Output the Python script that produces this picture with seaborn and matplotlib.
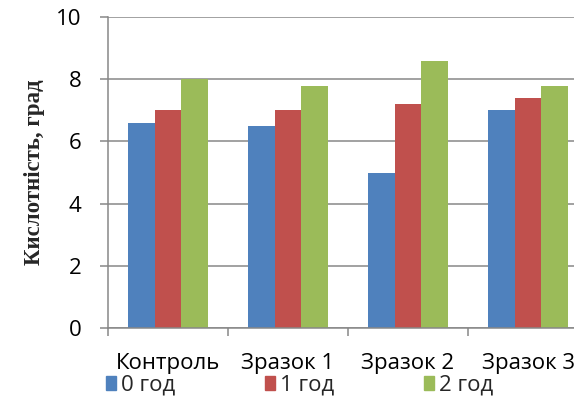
import matplotlib
matplotlib.use("Agg")
import matplotlib.pyplot as plt
import matplotlib.patches as mpatches
from matplotlib.ticker import FixedLocator
import seaborn as sns
import pandas as pd

categories = ["Контроль", "Зразок 1", "Зразок 2", "Зразок 3"]
series_names = ["0 год", "1 год", "2 год"]
values_0 = [6.6, 6.5, 5.0, 7.0]
values_1 = [7.0, 7.0, 7.2, 7.4]
values_2 = [8.0, 7.8, 8.6, 7.8]
colors = ["#4F81BD", "#C0504D", "#9BBB59"]
y_ticks = [0, 2, 4, 6, 8, 10]

rows = []
for name, vals in zip(series_names, [values_0, values_1, values_2]):
    for c, v in zip(categories, vals):
        rows.append({"cat": c, "series": name, "val": v})
df = pd.DataFrame(rows)

sns.set_theme(style="white")
plt.rcParams["font.family"] = ["Open Sans", "DejaVu Sans"]

fig = plt.figure(figsize=(5.74, 3.96), dpi=100)
ax = fig.add_axes([108 / 574, 68.3 / 396, 480 / 574, 310.4 / 396])

sns.barplot(data=df, x="cat", y="val", hue="series", order=categories,
            hue_order=series_names, palette=colors, width=0.66,
            saturation=1, ax=ax, legend=False, linewidth=0)

grid_c = "#878787"
ax.set_ylim(0, 10)
ax.set_xlim(-0.5, len(categories) - 0.5)
ax.set_yticks(y_ticks)
ax.yaxis.grid(True, color=grid_c, linewidth=1.1)
ax.set_axisbelow(True)
for s in ["top", "right"]:
    ax.spines[s].set_visible(False)
for s in ["left", "bottom"]:
    ax.spines[s].set_color(grid_c)
    ax.spines[s].set_linewidth(1.1)

ax.tick_params(axis="y", which="major", length=6, width=1.1, color=grid_c,
               pad=13, labelsize=16, left=True, labelcolor="black")
ax.tick_params(axis="x", which="major", length=0, pad=18, labelsize=16,
               labelcolor="black")
ax.xaxis.set_minor_locator(FixedLocator([i - 0.5 for i in range(len(categories) + 1)]))
ax.tick_params(axis="x", which="minor", length=6, width=1.1, color=grid_c,
               bottom=True, direction="out")

ax.set_xlabel("")
ax.set_ylabel("Кислотність, град", fontsize=16.5, fontweight="bold",
              family=["Liberation Serif", "DejaVu Serif"], labelpad=8)

handles = [mpatches.Patch(color=c, label=n) for c, n in zip(colors, series_names)]
fig.legend(handles=handles, loc="center left", bbox_to_anchor=(106 / 574, 1 - 385 / 396),
           ncol=3, frameon=False, fontsize=16, handlelength=0.45, handleheight=0.6,
           handletextpad=0.22, columnspacing=4.05, borderaxespad=0, borderpad=0)

fig.savefig("out.png", dpi=100)
